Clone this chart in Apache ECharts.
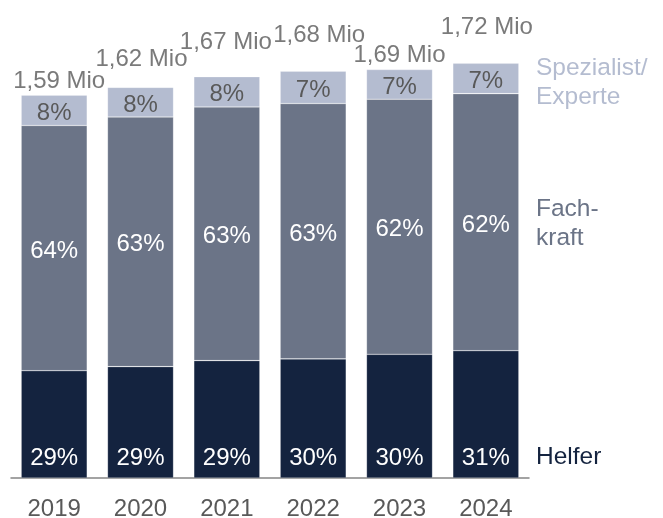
<!DOCTYPE html>
<html>
<head>
<meta charset="utf-8">
<script src="https://cdn.jsdelivr.net/npm/echarts@6/dist/echarts.min.js"></script>
<style>html,body{margin:0;padding:0;background:#fff;}#c{width:663px;height:518px;}</style>
</head>
<body>
<div id="c"></div>
<script>
// Data (thousands of persons)
const years = ['2019', '2020', '2021', '2022', '2023', '2024'];
const helfer = [445, 462, 487, 494, 513, 528];
const fachkraft = [1017, 1035, 1052, 1059, 1058, 1066];
const spezialist = [126, 123, 125, 134, 123, 126];
const helferPct = ['29%', '29%', '29%', '30%', '30%', '31%'];
const fachPct = ['64%', '63%', '63%', '63%', '62%', '62%'];
const spezPct = ['8%', '8%', '8%', '7%', '7%', '7%'];
const totalLabels = ['1,59 Mio', '1,62 Mio', '1,67 Mio', '1,68 Mio', '1,69 Mio', '1,72 Mio'];

// styling
const totalOffsets = [[5, -14], [1, -28], [-1, -34], [6, -36], [0, -14], [1, -36]];
const FONT = '"Liberation Sans", Arial, sans-serif';
const FS = 24;
const C_H = '#14233f', C_F = '#6b7487', C_S = '#b4bcd0', C_T = '#595959';

const totals = years.map((_, i) => helfer[i] + fachkraft[i] + spezialist[i]);

const chart = echarts.init(document.getElementById('c'), null, {renderer: 'canvas'});
const barBase = {type: 'bar', stack: 'a', barWidth: 66, silent: true,
  itemStyle: {borderColor: 'rgba(255,255,255,0.35)', borderWidth: 0.6}};
chart.setOption({
  animation: false,
  textStyle: {fontFamily: FONT},
  grid: {left: 11, right: 134, top: 44, bottom: 40, containLabel: false, outerBoundsMode: 'none'},
  xAxis: {
    type: 'category', data: years,
    axisLine: {show: true, lineStyle: {color: '#858585', width: 1.5}},
    axisTick: {show: false},
    axisLabel: {color: C_T, fontSize: FS, fontFamily: FONT, margin: 19}
  },
  yAxis: {type: 'value', min: 0, max: 1800, show: false, splitLine: {show: false}},
  series: [
    Object.assign({}, barBase, {
      name: 'Helfer', data: helfer,
      itemStyle: Object.assign({}, barBase.itemStyle, {color: C_H}),
      label: {show: true, position: 'insideBottom', distance: 8, color: '#fff', fontSize: FS, fontFamily: FONT,
        formatter: p => helferPct[p.dataIndex]}
    }),
    Object.assign({}, barBase, {
      name: 'Fachkraft', data: fachkraft,
      itemStyle: Object.assign({}, barBase.itemStyle, {color: C_F}),
      label: {show: true, position: 'inside', offset: [0, 3], color: '#fff', fontSize: FS, fontFamily: FONT,
        formatter: p => fachPct[p.dataIndex]}
    }),
    Object.assign({}, barBase, {
      name: 'Spezialist', data: spezialist,
      itemStyle: Object.assign({}, barBase.itemStyle, {color: C_S}),
      label: {show: true, position: 'inside', offset: [0, 3], color: C_T, fontSize: FS, fontFamily: FONT,
        formatter: p => spezPct[p.dataIndex]}
    }),
    {
      type: 'scatter', symbolSize: 0, silent: true,
      data: totals.map((v, i) => ({value: v, label: {offset: totalOffsets[i]}})),
      label: {show: true, position: 'inside', color: C_T, fontSize: FS, fontFamily: FONT,
        formatter: p => totalLabels[p.dataIndex]}
    }
  ],
  graphic: [
    {type: 'text', left: 536, top: 54, style: {text: 'Spezialist/\nExperte', fill: C_S, font: '24.5px ' + FONT, lineHeight: 29}},
    {type: 'text', left: 536, top: 195, style: {text: 'Fach-\nkraft', fill: C_F, font: '24.5px ' + FONT, lineHeight: 29}},
    {type: 'text', left: 536, top: 443, style: {text: 'Helfer', fill: C_H, font: '24.5px ' + FONT, lineHeight: 29}}
  ]
});
</script>
</body>
</html>
